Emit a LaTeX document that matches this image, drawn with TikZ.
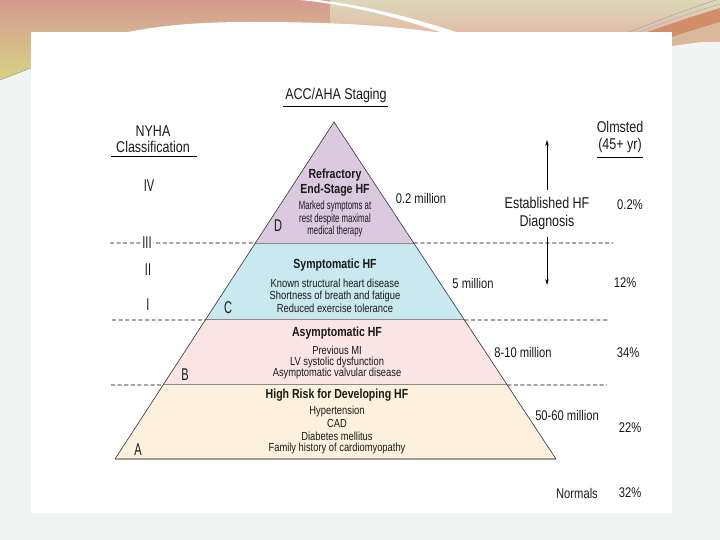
\documentclass[tikz,border=0pt]{standalone}
\usepackage{fontspec}
\setmainfont{Liberation Sans}[FakeStretch=0.8]
\newfontfamily\narrowfont{Liberation Sans}[FakeStretch=0.65]
\usetikzlibrary{calc,arrows.meta}
\definecolor{bgc}{HTML}{F3F4F4}
\definecolor{topPink}{HTML}{D59B92}
\definecolor{topYellow}{HTML}{D6D384}
\definecolor{topBeige}{HTML}{DBD8B9}
\definecolor{topRose}{HTML}{E6B3A3}
\definecolor{orangeBand}{HTML}{D28E6A}
\definecolor{tanBand}{HTML}{D8B99A}
\definecolor{txt}{HTML}{1A1A1A}
\definecolor{colD}{HTML}{DAC9DF}
\definecolor{colC}{HTML}{C9E8F0}
\definecolor{colB}{HTML}{FBE4E4}
\definecolor{colA}{HTML}{FDF0DD}
\definecolor{sepgray}{HTML}{8C8A88}
\definecolor{basegray}{HTML}{A29E98}
\tikzset{
  every node/.style={inner sep=0pt, outer sep=0pt, text=txt},
  hdr/.style={font=\fontsize{15.6}{18}\selectfont},
  numtxt/.style={font=\fontsize{14}{16}\selectfont},
  btitle/.style={font=\bfseries\fontsize{13.2}{15}\selectfont},
  bodytxt/.style={font=\fontsize{11.7}{13}\selectfont},
  smalltxt/.style={font=\narrowfont\fontsize{12}{10.3}\selectfont, align=center},
  stageltr/.style={font=\narrowfont\fontsize{17}{19}\selectfont},
  romanltr/.style={font=\narrowfont\fontsize{17}{19}\selectfont},
  dashln/.style={dash pattern=on 4pt off 2.6pt, line width=0.7pt, black},
  sepln/.style={sepgray, line width=1pt},
  edgeln/.style={black!80, line width=0.6pt},
  arr/.style={line width=0.6pt, black, -{Stealth[length=6pt,width=3.4pt]}}
}
\begin{document}
\begin{tikzpicture}[x=1pt,y=-1pt]
\useasboundingbox (0,0) rectangle (720,540);
% background
\fill[bgc] (0,0) rectangle (720,540);
\shade[top color=topPink, bottom color=topYellow]
  (0,0) -- (340,0) -- (340,42) -- (31,42) -- (31,68) -- (0,80) -- cycle;
\shade[top color=topBeige, bottom color=topRose]
  (330,0) -- (720,0) -- (720,42) -- (330,42) -- cycle;
\fill[white] (318,0) .. controls (370,6) and (420,20) .. (462,34)
  -- (446,34) .. controls (405,20) and (360,6) .. (300,0) -- cycle;
\fill[white] (118,34) .. controls (160,25) and (200,22) .. (250,22)
  .. controls (320,22) and (380,24) .. (450,34) -- cycle;
\fill[orangeBand] (642,34) .. controls (675,22) and (700,14) .. (720,8)
  -- (720,22) .. controls (700,28) and (685,33) .. (672,37) -- cycle;
\fill[tanBand] (672,37) .. controls (690,31) and (705,27) .. (720,22)
  -- (720,40) .. controls (700,42) and (685,44) .. (672,46) -- cycle;
\draw[gray!70, line width=0.5pt] (624,34) .. controls (660,20) and (690,8) .. (716,0);
\draw[gray!60, line width=0.5pt] (634,34) .. controls (670,20) and (700,10) .. (720,4);
\draw[gray!70, line width=0.6pt] (0,80) -- (31,68);
\fill[white] (31,32) rectangle (672,513);

% pyramid geometry
\coordinate (apex) at (334,122);
\coordinate (bl) at (115,459);
\coordinate (br) at (556,459);
\coordinate (l1) at ($(apex)!0.3591!(bl)$);
\coordinate (r1) at ($(apex)!0.3591!(br)$);
\coordinate (l2) at ($(apex)!0.5875!(bl)$);
\coordinate (r2) at ($(apex)!0.5875!(br)$);
\coordinate (l3) at ($(apex)!0.7804!(bl)$);
\coordinate (r3) at ($(apex)!0.7804!(br)$);

\fill[colD] (apex) -- (l1) -- (r1) -- cycle;
\fill[colC] (l1) -- (l2) -- (r2) -- (r1) -- cycle;
\fill[colB] (l2) -- (l3) -- (r3) -- (r2) -- cycle;
\fill[colA] (l3) -- (bl) -- (br) -- (r3) -- cycle;
\draw[sepln] (l1) -- (r1);
\draw[sepln] (l2) -- (r2);
\draw[sepln] (l3) -- (r3);
\draw[basegray, line width=1.6pt] (bl) -- (br);
\draw[edgeln] (bl) -- (apex) -- (br);

% dashed level lines
\coordinate (dl1) at (110,243);
\coordinate (dr1) at (613,243);
\coordinate (dl2) at (112,320);
\coordinate (dr2) at (608,320);
\coordinate (dl3) at (111,385);
\coordinate (dr3) at (607,385);
\draw[dashln] (dl1) -- (l1);
\draw[dashln] (r1) -- (dr1);
\draw[dashln] (dl2) -- (l2);
\draw[dashln] (r2) -- (dr2);
\draw[dashln] (dl3) -- (l3);
\draw[dashln] (r3) -- (dr3);

% headers
\node[hdr] (acc) at (336,95) {ACC/AHA Staging};
\draw[line width=0.8pt] (283,106) -- (388,106);
\node[hdr] (nyha1) at (153,131) {NYHA};
\node[hdr] (nyha2) at (153,147) {Classification};
\draw[line width=0.8pt] (111,156) -- (197,156);
\node[hdr] (olm1) at (620,127) {Olmsted};
\node[hdr] (olm2) at (620,145) {(45+ yr)};
\draw[line width=0.8pt] (597,157) -- (643,157);

% NYHA numerals
\node[romanltr] (iv) at (149,186) {IV};
\node[romanltr, fill=white, inner xsep=1pt] (iii) at (147,243) {III};
\node[romanltr] (ii) at (148,270) {II};
\node[romanltr] (i) at (148,305) {I};

% stage D
\node[btitle] (d1) at (335,175) {Refractory};
\node[btitle] (d2) at (335,190) {End-Stage HF};
\node[smalltxt] (d3) at (335,219) {Marked symptoms at\\rest despite maximal\\medical therapy};
\node[stageltr] (sD) at (278,226) {D};

% stage C
\node[btitle] (c1) at (335,265) {Symptomatic HF};
\node[bodytxt] (c2) at (335,283) {Known structural heart disease};
\node[bodytxt] (c3) at (335,296) {Shortness of breath and fatigue};
\node[bodytxt] (c4) at (335,308) {Reduced exercise tolerance};
\node[stageltr] (sC) at (228,308) {C};

% stage B
\node[btitle] (b1) at (337,333) {Asymptomatic HF};
\node[bodytxt] (b2) at (337,350) {Previous MI};
\node[bodytxt] (b3) at (337,362) {LV systolic dysfunction};
\node[bodytxt] (b4) at (337,373) {Asymptomatic valvular disease};
\node[stageltr] (sB) at (185,375) {B};

% stage A
\node[btitle] (a1) at (337,395) {High Risk for Developing HF};
\node[bodytxt] (a2) at (337,411) {Hypertension};
\node[bodytxt] (a3) at (337,423) {CAD};
\node[bodytxt] (a4) at (337,436) {Diabetes mellitus};
\node[bodytxt] (a5) at (337,448) {Family history of cardiomyopathy};
\node[stageltr] (sA) at (138,450) {A};

% population numbers
\node[numtxt] (m1) at (421,198) {0.2 million};
\node[numtxt] (m2) at (473,283) {5 million};
\node[numtxt] (m3) at (523,352) {8-10 million};
\node[numtxt] (m4) at (567,415) {50-60 million};
\node[numtxt] (norm) at (577,493) {Normals};

% Olmsted percentages
\node[numtxt] (p1) at (630,205) {0.2\%};
\node[numtxt] (p2) at (625,283) {12\%};
\node[numtxt] (p3) at (628,353) {34\%};
\node[numtxt] (p4) at (630,428) {22\%};
\node[numtxt] (p5) at (630,493) {32\%};

% established HF arrow
\node[hdr] (est1) at (547,203) {Established HF};
\node[hdr] (est2) at (547,222) {Diagnosis};
\coordinate (arTop) at (547,140);
\coordinate (arBot) at (547,285);
\draw[arr] (est1.north) ++(0,-7) -- (arTop);
\draw[arr] (est2.south) ++(0,8) -- (arBot);
\end{tikzpicture}
\end{document}
